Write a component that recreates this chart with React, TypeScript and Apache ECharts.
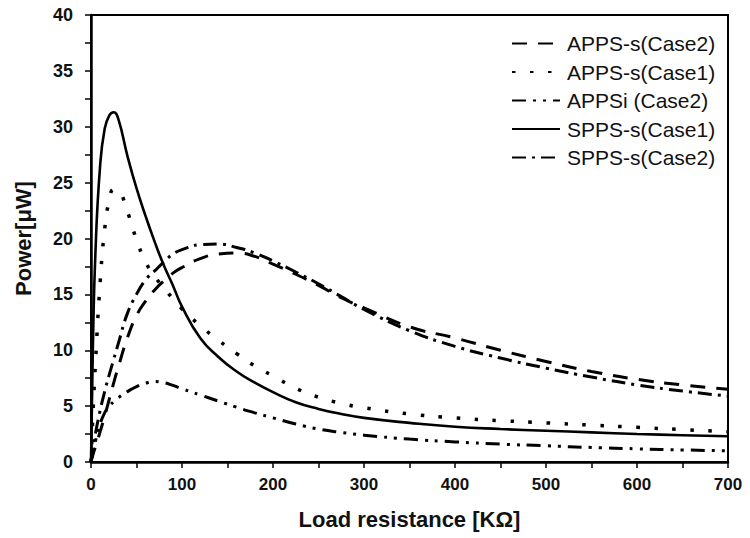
import React, { useEffect, useRef } from "react";
import * as echarts from "echarts";

const loadK = [0, 2, 5, 10, 15, 20, 25, 30, 40, 50, 60, 70, 80, 90, 100, 120, 140, 160, 180, 200, 225, 250, 275, 300, 350, 400, 450, 500, 550, 600, 650, 700];

const appsCase2 = [0, 0.6, 1.4, 2.7, 4.1, 5.6, 7.1, 8.5, 11.1, 13.1, 14.4, 15.4, 16.2, 16.9, 17.4, 18.2, 18.6, 18.7, 18.4, 17.7, 16.8, 15.8, 14.7, 13.8, 12.1, 11.1, 10.0, 9.0, 8.1, 7.4, 6.9, 6.5];
const appsCase1 = [0, 4, 9, 16, 20.8, 23.4, 24.4, 24.3, 22.4, 19.9, 17.9, 16.6, 15.6, 14.6, 13.7, 12.2, 10.9, 9.7, 8.6, 7.7, 6.6, 5.8, 5.25, 4.85, 4.3, 3.95, 3.7, 3.5, 3.3, 3.1, 2.9, 2.7];
const appsiCase2 = [0, 0.8, 1.9, 3.4, 4.4, 5.0, 5.4, 5.75, 6.3, 6.75, 7.05, 7.2, 7.1, 6.85, 6.55, 6.0, 5.45, 4.9, 4.4, 3.95, 3.4, 2.95, 2.65, 2.4, 2.05, 1.8, 1.6, 1.45, 1.3, 1.18, 1.08, 1.0];
const sppsCase1 = [0, 10, 19, 26.5, 29.8, 31.0, 31.3, 30.7, 27.4, 24.5, 22.0, 19.7, 17.6, 15.8, 13.9, 11.1, 9.4, 8.1, 7.1, 6.25, 5.35, 4.75, 4.3, 3.95, 3.5, 3.15, 2.95, 2.8, 2.65, 2.5, 2.4, 2.3];
const sppsCase2 = [0, 1.2, 2.6, 4.6, 6.3, 7.8, 9.2, 10.6, 13.3, 15.0, 16.3, 17.1, 17.9, 18.6, 19.0, 19.45, 19.5, 19.2, 18.7, 18.0, 17.0, 15.95, 14.8, 13.65, 11.75, 10.35, 9.3, 8.4, 7.6, 6.9, 6.35, 5.9];

const seriesNames = ["APPS-s(Case2)", "APPS-s(Case1)", "APPSi (Case2)", "SPPS-s(Case1)", "SPPS-s(Case2)"];

const FONT = "'Liberation Sans', Arial, Helvetica, sans-serif";

export default function App() {
  const ref = useRef<HTMLDivElement>(null);
  useEffect(() => {
    if (!ref.current) return;
    const chart = echarts.init(ref.current, null, { renderer: "svg" });
    const pairs = (arr: number[]) => loadK.map((x, i) => [x, arr[i]]);
    const mk = (name: string, arr: number[], dash: any, width: number) => ({
      name,
      type: "line",
      data: pairs(arr),
      symbol: "none",
      smooth: 0.5,
      lineStyle: { color: "#000", width, type: dash, cap: "butt" },
      itemStyle: { color: "#000" },
    });
    chart.setOption({
      animation: false,
      backgroundColor: "#fff",
      grid: { left: 91, right: 22, top: 15, bottom: 76, show: true, borderColor: "#000", borderWidth: 2 },
      legend: {
        orient: "vertical",
        left: 511,
        top: 33,
        padding: 0,
        itemWidth: 48,
        itemHeight: 14,
        itemGap: 7.5,
        data: seriesNames,
        itemStyle: { color: "rgba(0,0,0,0)", borderWidth: 0, opacity: 0 },
        textStyle: { fontFamily: FONT, fontSize: 21, color: "#111", lineHeight: 20, padding: [0, 0, 0, 2] },
      },
      xAxis: {
        type: "value",
        min: 0,
        max: 700,
        interval: 100,
        name: "Load resistance [KΩ]",
        nameLocation: "middle",
        nameGap: 46,
        nameTextStyle: { fontFamily: FONT, fontSize: 22, fontWeight: "bold", color: "#111" },
        axisLine: { lineStyle: { color: "#000", width: 2.5 } },
        axisTick: { show: true, inside: false, length: 6, lineStyle: { color: "#000", width: 1.5 } },
        minorTick: { show: true, splitNumber: 2, length: 6, lineStyle: { color: "#000", width: 1.5 } },
        splitLine: { show: false },
        axisLabel: { fontFamily: FONT, fontSize: 17, fontWeight: "bold", color: "#111", margin: 14 },
      },
      yAxis: {
        type: "value",
        min: 0,
        max: 40,
        interval: 5,
        name: "Power[μW]",
        nameLocation: "middle",
        nameGap: 57,
        nameTextStyle: { fontFamily: FONT, fontSize: 22, fontWeight: "bold", color: "#111" },
        axisLine: { lineStyle: { color: "#000", width: 2.5 } },
        axisTick: { show: true, inside: false, length: 6, lineStyle: { color: "#000", width: 1.5 } },
        minorTick: { show: true, splitNumber: 2, length: 6, lineStyle: { color: "#000", width: 1.5 } },
        splitLine: { show: false },
        axisLabel: { fontFamily: FONT, fontSize: 18, fontWeight: "bold", color: "#111", margin: 18 },
      },
      series: [
        mk(seriesNames[0], appsCase2, [15, 11], 3),
        mk(seriesNames[1], appsCase1, [3.5, 14.5], 3.5),
        mk(seriesNames[2], appsiCase2, [14, 7, 3, 7, 3, 7], 3),
        mk(seriesNames[3], sppsCase1, "solid", 2.6),
        mk(seriesNames[4], sppsCase2, [14, 6, 3, 6], 3),
      ],
    });
    return () => chart.dispose();
  }, []);
  return <div ref={ref} style={{ width: 750, height: 538, position: "absolute", left: 0, top: 0 }} />;
}
